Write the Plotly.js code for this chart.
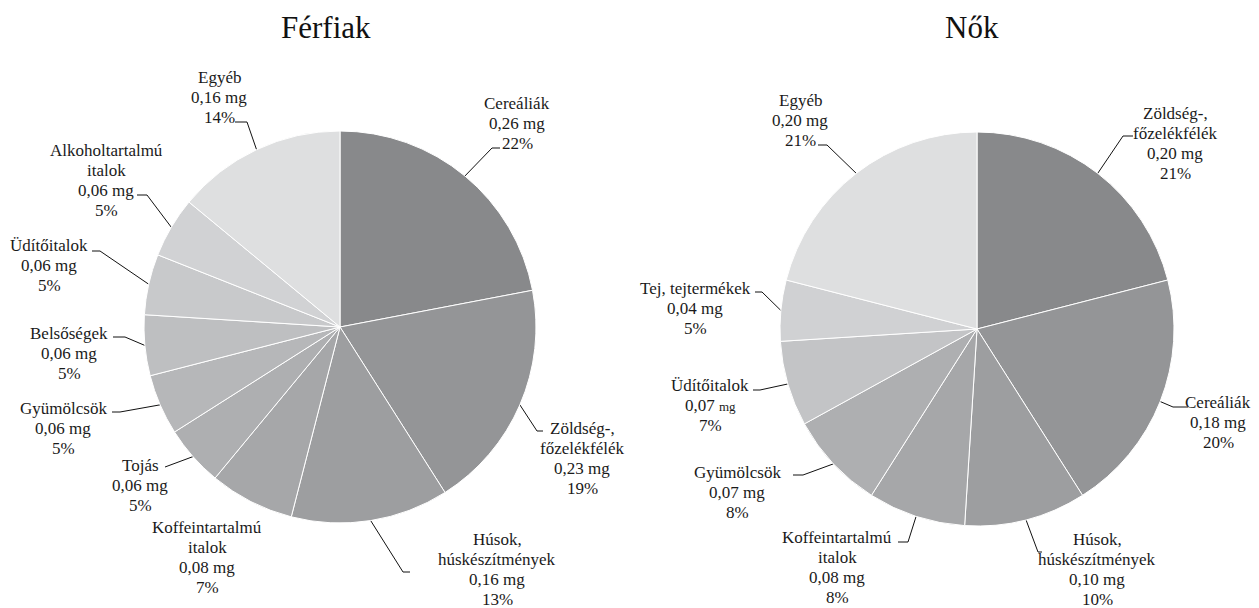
<!DOCTYPE html>
<html>
<head>
<meta charset="utf-8">
<script src="https://cdn.plot.ly/plotly-3.0.1.min.js"></script>
<style>html,body{margin:0;padding:0;background:#fff;}#chart{width:1259px;height:608px;}</style>
</head>
<body>
<div id="chart"></div>
<script>
// ---------- DATA ----------
const menLabels = ["Cereáliák", "Zöldség-,<br>főzelékfélék", "Húsok,<br>húskészítmények", "Koffeintartalmú<br>italok", "Tojás", "Gyümölcsök", "Belsőségek", "Üdítőitalok", "Alkoholtartalmú<br>italok", "Egyéb"];
const menMg = ["0,26", "0,23", "0,16", "0,08", "0,06", "0,06", "0,06", "0,06", "0,06", "0,16"];
const menPct = [22, 19, 13, 7, 5, 5, 5, 5, 5, 14];

const womenLabels = ["Zöldség-,<br>főzelékfélék", "Cereáliák", "Húsok,<br>húskészítmények", "Koffeintartalmú<br>italok", "Gyümölcsök", "Üdítőitalok", "Tej, tejtermékek", "Egyéb"];
const womenMg = ["0,20", "0,18", "0,10", "0,08", "0,07", "0,07", "0,04", "0,20"];
const womenPct = [21, 20, 10, 8, 8, 7, 5, 21];

const titles = ["Férfiak", "Nők"];

// ---------- LAYOUT / STYLE ----------
const W = 1259, H = 608;
const FONT = "Liberation Serif";
const menColors = ["#88898b", "#949597", "#9d9ea0", "#a6a7a9", "#aeafb1", "#b6b7b9", "#bebfc1", "#c8c9cb", "#d1d2d4", "#dedfe0"];
const womenColors = ["#88898b", "#949597", "#9d9ea0", "#a6a7a9", "#aeafb1", "#c3c4c6", "#d0d1d3", "#dedfe0"];
const pies = [
  {cx: 340, cy: 327, r: 196, titleX: 326, titleY: 27},
  {cx: 977, cy: 329, r: 197, titleX: 972, titleY: 27}
];
const LINE_H = 20;
const LABEL_SIZE = 17;
// label centres and leader line points (label side), one entry per slice
const menLabelPos = [[517,123],[582,458],[497,569],[207,557],[140,485],[63,428],[69,353],[49,265],[106,180],[219,97]];
const menLeader = [[[500,148],[492,148]], [[543,431],[537,431]], [[410,572],[403,572]], null, [[165,467]], [[112,412],[120,412]], [[113,337],[125,337]], [[92,251],[100,251]], [[137,195],[147,195]], [[235,122],[247,122]]];
const womenLabelPos = [[1175,143],[1218,422],[1097,569],[837,567],[737,492],[710,405],[695,308],[800,120]];
const womenSmallMg = [false, false, false, false, false, true, false, false];
const womenLeader = [[[1133,136],[1123,136]], [[1188,407],[1173,407]], [[1042,552],[1038,552]], [[898,542],[908,542]], [[793,475],[803,475]], [[753,390],[760,390]], [[755,292],[762,292]], [[818,145],[827,145]]];

function pieTrace(vals, labels, colors, p) {
  return {
    type: "pie", values: vals, labels: labels, sort: false, direction: "clockwise", rotation: 0,
    textinfo: "none", hoverinfo: "none", showlegend: false,
    marker: {colors: colors, line: {color: "#ffffff", width: 1}},
    domain: {x: [(p.cx - p.r) / W, (p.cx + p.r) / W], y: [(H - p.cy - p.r) / H, (H - p.cy + p.r) / H]}
  };
}

function edgePoints(vals, p) {
  const tot = vals.reduce((a, b) => a + b, 0);
  let cum = 0;
  return vals.map(v => {
    const mid = (cum + v / 2) / tot * 2 * Math.PI;
    cum += v;
    return [p.cx + p.r * Math.sin(mid), p.cy - p.r * Math.cos(mid)];
  });
}

const lx = [], ly = [];
function addLeaders(vals, leaders, p) {
  const edges = edgePoints(vals, p);
  leaders.forEach((pts, i) => {
    if (!pts) return;
    pts.forEach(q => { lx.push(q[0]); ly.push(q[1]); });
    lx.push(edges[i][0]); ly.push(edges[i][1]);
    lx.push(null); ly.push(null);
  });
}
addLeaders(menPct, menLeader, pies[0]);
addLeaders(womenPct, womenLeader, pies[1]);

const annotations = [];
// one annotation per text line
function addLabels(labels, mg, pct, pos, smallMg) {
  labels.forEach((lab, i) => {
    const mgText = (smallMg && smallMg[i]) ? mg[i] + ' <span style="font-size:13px">mg</span>' : mg[i] + " mg";
    const lines = lab.split("<br>").concat([mgText, pct[i] + "%"]);
    const y0 = pos[i][1] - (lines.length - 1) * LINE_H / 2;
    lines.forEach((ln, k) => {
      annotations.push({
        xref: "x", yref: "y", x: pos[i][0], y: y0 + k * LINE_H, xanchor: "center", yanchor: "middle",
        text: ln, showarrow: false, font: {family: FONT, size: LABEL_SIZE, color: "#1a1a1a"}
      });
    });
  });
}
addLabels(menLabels, menMg, menPct, menLabelPos);
addLabels(womenLabels, womenMg, womenPct, womenLabelPos, womenSmallMg);
titles.forEach((t, i) => {
  annotations.push({xref: "x", yref: "y", x: pies[i].titleX, y: pies[i].titleY, xanchor: "center", yanchor: "middle",
    text: t, showarrow: false, font: {family: FONT, size: 31, color: "#111"}});
});

const data = [
  pieTrace(menPct, menLabels, menColors, pies[0]),
  pieTrace(womenPct, womenLabels, womenColors, pies[1]),
  {type: "scatter", mode: "lines", x: lx, y: ly, line: {color: "#111", width: 1}, hoverinfo: "skip", showlegend: false, xaxis: "x", yaxis: "y"}
];

const layout = {
  width: W, height: H, margin: {l: 0, r: 0, t: 0, b: 0},
  paper_bgcolor: "#ffffff", plot_bgcolor: "rgba(0,0,0,0)",
  font: {family: FONT},
  xaxis: {range: [0, W], visible: false, fixedrange: true},
  yaxis: {range: [H, 0], visible: false, fixedrange: true},
  annotations: annotations, showlegend: false
};
Plotly.newPlot("chart", data, layout, {displayModeBar: false, staticPlot: true});
</script>
</body>
</html>
